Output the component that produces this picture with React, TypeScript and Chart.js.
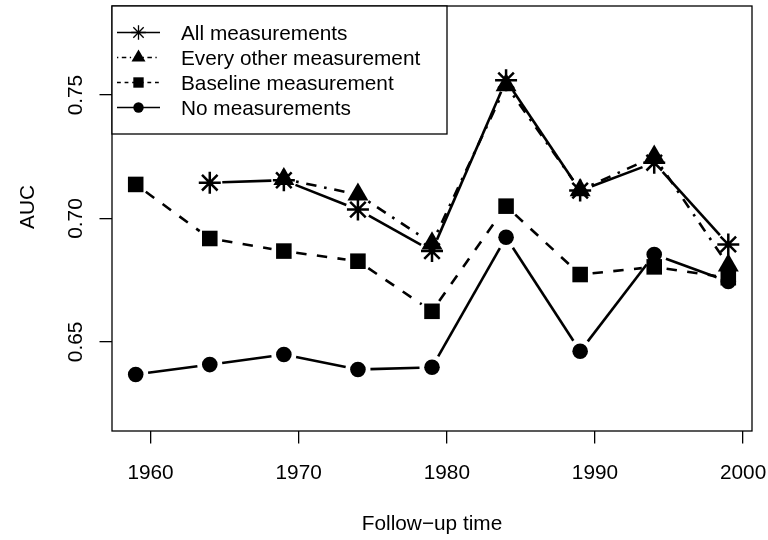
import React, { useEffect, useRef } from "react";
import { Chart, registerables } from "chart.js";

Chart.register(...registerables);

// ---- data ----
const YEARS = [1959, 1964, 1969, 1974, 1979, 1984, 1989, 1994, 1999];
const ALL_MEAS = [null, 0.7145, 0.7155, 0.7036, 0.6868, 0.756, 0.7113, 0.7226, 0.6895];
const EVERY_OTHER = [null, null, 0.716, 0.7097, 0.6899, 0.754, 0.7115, 0.7251, 0.681];
const BASELINE = [0.7138, 0.6919, 0.6868, 0.6827, 0.6624, 0.705, 0.6773, 0.6804, 0.676];
const NO_MEAS = [0.6368, 0.6408, 0.6449, 0.6388, 0.6397, 0.6924, 0.6462, 0.6854, 0.6745];
const X_TICKS = [1960, 1970, 1980, 1990, 2000];
const Y_TICKS = [0.65, 0.7, 0.75];
const LEGEND_LABELS = [
  "All measurements",
  "Every other measurement",
  "Baseline measurement",
  "No measurements",
];
const X_TITLE = "Follow\u2212up time";
const Y_TITLE = "AUC";

const FONT = '20.8px "Liberation Sans", Arial, Helvetica, sans-serif';

type Style = {
  pointStyle: string;
  radius: number;
  borderWidth: number;
  dash: number[];
  legendDash: number[];
};

const STYLES: Style[] = [
  { pointStyle: "star", radius: 11, borderWidth: 2.5, dash: [], legendDash: [] },
  { pointStyle: "triangle", radius: 12.1, borderWidth: 0, dash: [2.6, 7.8, 10.4, 7.8], legendDash: [1.3, 3.5, 4.5, 3.5] },
  { pointStyle: "rect", radius: 11, borderWidth: 0, dash: [10.4, 10.4], legendDash: [3.8, 3.8] },
  { pointStyle: "circle", radius: 7.8, borderWidth: 0, dash: [], legendDash: [] },
];

const SERIES = [ALL_MEAS, EVERY_OTHER, BASELINE, NO_MEAS];

const GAP = 12.5;

const linesPlugin = {
  id: "rTypeBLines",
  beforeDatasetsDraw(chart: any) {
    const ctx = chart.ctx;
    for (let i = chart.data.datasets.length - 1; i >= 0; i--) {
      const meta = chart.getDatasetMeta(i);
      const pts = meta.data;
      const st = STYLES[i];
      ctx.save();
      ctx.strokeStyle = "#000";
      ctx.lineWidth = 2.6;
      ctx.lineCap = "butt";
      ctx.setLineDash(st.dash);
      for (let k = 0; k < pts.length - 1; k++) {
        const a = pts[k];
        const b = pts[k + 1];
        const dx = b.x - a.x;
        const dy = b.y - a.y;
        const len = Math.sqrt(dx * dx + dy * dy);
        if (len <= 2 * GAP) continue;
        const ux = dx / len;
        const uy = dy / len;
        ctx.beginPath();
        ctx.moveTo(a.x + ux * GAP, a.y + uy * GAP);
        ctx.lineTo(b.x - ux * GAP, b.y - uy * GAP);
        ctx.stroke();
      }
      ctx.restore();
    }
  },
};

const decorPlugin = {
  id: "rDecor",
  afterDraw(chart: any) {
    const ctx = chart.ctx;
    const area = chart.chartArea;
    const xs = chart.scales.x;
    const ys = chart.scales.y;
    ctx.save();
    // plot box
    ctx.strokeStyle = "#000";
    ctx.lineWidth = 1.3;
    ctx.setLineDash([]);
    ctx.strokeRect(area.left, area.top, area.right - area.left, area.bottom - area.top);

    ctx.fillStyle = "#000";
    ctx.font = FONT;
    // x tick labels
    ctx.textAlign = "center";
    ctx.textBaseline = "alphabetic";
    xs.ticks.forEach((t: any) => {
      const px = xs.getPixelForValue(t.value);
      ctx.fillText(String(t.value), px, area.bottom + 47.5);
    });
    // y tick labels (rotated)
    ys.ticks.forEach((t: any) => {
      const py = ys.getPixelForValue(t.value);
      ctx.save();
      ctx.translate(area.left - 30.5, py);
      ctx.rotate(-Math.PI / 2);
      ctx.fillText(Number(t.value).toFixed(2), 0, 0);
      ctx.restore();
    });
    // axis titles
    ctx.fillText(X_TITLE, (area.left + area.right) / 2, area.bottom + 99);
    ctx.save();
    ctx.translate(area.left - 78, 207);
    ctx.rotate(-Math.PI / 2);
    ctx.fillText(Y_TITLE, 0, 0);
    ctx.restore();

    // legend
    const lx = area.left;
    const ly = area.top;
    const lw = 335;
    const rowH = 25;
    const firstRow = ly + 26.5;
    const lh = 128;
    ctx.fillStyle = "#fff";
    ctx.fillRect(lx, ly, lw, lh);
    ctx.strokeStyle = "#000";
    ctx.lineWidth = 1.3;
    ctx.strokeRect(lx, ly, lw, lh);
    const segL = lx + 5;
    const segR = lx + 48;
    const symX = (segL + segR) / 2;
    const textX = lx + 69;
    LEGEND_LABELS.forEach((label, i) => {
      const cy = firstRow + i * rowH;
      const st = STYLES[i];
      ctx.save();
      ctx.strokeStyle = "#000";
      ctx.lineWidth = 1.3;
      ctx.setLineDash(st.legendDash);
      ctx.beginPath();
      ctx.moveTo(segL, cy);
      ctx.lineTo(segR, cy);
      ctx.stroke();
      ctx.restore();
      // symbol (two thirds size)
      const r = st.radius * 0.667;
      ctx.save();
      ctx.fillStyle = "#000";
      ctx.strokeStyle = "#000";
      ctx.lineWidth = 1.3;
      ctx.setLineDash([]);
      ctx.beginPath();
      if (st.pointStyle === "star") {
        const d = r * Math.SQRT1_2;
        ctx.moveTo(symX - r, cy); ctx.lineTo(symX + r, cy);
        ctx.moveTo(symX, cy - r); ctx.lineTo(symX, cy + r);
        ctx.moveTo(symX - d, cy - d); ctx.lineTo(symX + d, cy + d);
        ctx.moveTo(symX - d, cy + d); ctx.lineTo(symX + d, cy - d);
        ctx.stroke();
      } else if (st.pointStyle === "triangle") {
        ctx.moveTo(symX, cy - r);
        ctx.lineTo(symX + r * 0.866, cy + r / 2);
        ctx.lineTo(symX - r * 0.866, cy + r / 2);
        ctx.closePath();
        ctx.fill();
      } else if (st.pointStyle === "rect") {
        const h = r * Math.SQRT1_2;
        ctx.rect(symX - h, cy - h, 2 * h, 2 * h);
        ctx.fill();
      } else {
        ctx.arc(symX, cy, r, 0, Math.PI * 2);
        ctx.fill();
      }
      ctx.restore();
      ctx.fillStyle = "#000";
      ctx.textAlign = "left";
      ctx.textBaseline = "alphabetic";
      ctx.font = FONT;
      ctx.fillText(label, textX, cy + 7.4);
    });
    ctx.restore();
  },
};

export default function App() {
  const canvasRef = useRef<HTMLCanvasElement | null>(null);

  useEffect(() => {
    const canvas = canvasRef.current;
    if (!canvas) return;
    const datasets = SERIES.map((arr, i) => {
      const st = STYLES[i];
      return {
        label: LEGEND_LABELS[i],
        data: YEARS.map((x, k) => ({ x, y: arr[k] })).filter((d) => d.y !== null),
        showLine: false,
        pointStyle: st.pointStyle,
        pointRadius: st.radius,
        pointHoverRadius: st.radius,
        pointBackgroundColor: "#000",
        pointBorderColor: "#000",
        pointBorderWidth: st.borderWidth,
        borderColor: "#000",
        backgroundColor: "#000",
        clip: false,
      };
    });
    const chart = new Chart(canvas, {
      type: "line",
      data: { datasets } as any,
      plugins: [linesPlugin, decorPlugin],
      options: {
        animation: false,
        responsive: false,
        devicePixelRatio: 1,
        events: [],
        layout: { padding: { left: 0, right: 16, top: 6, bottom: 0 }, autoPadding: false },
        plugins: { legend: { display: false }, tooltip: { enabled: false } },
        scales: {
          x: {
            type: "linear",
            position: "bottom",
            min: 1957.4,
            max: 2000.6,
            afterBuildTicks: (scale: any) => {
              scale.ticks = X_TICKS.map((v) => ({ value: v }));
            },
            afterFit: (scale: any) => {
              scale.height = 109;
            },
            ticks: { display: false },
            border: { display: false },
            grid: {
              display: true,
              drawOnChartArea: false,
              drawTicks: true,
              tickLength: 12.5,
              color: "#000",
              lineWidth: 1.3,
            },
          },
          y: {
            type: "linear",
            position: "left",
            min: 0.6139,
            max: 0.7861,
            afterBuildTicks: (scale: any) => {
              scale.ticks = Y_TICKS.map((v) => ({ value: v }));
            },
            afterFit: (scale: any) => {
              scale.width = 112;
            },
            ticks: { display: false },
            border: { display: false },
            grid: {
              display: true,
              drawOnChartArea: false,
              drawTicks: true,
              tickLength: 12.5,
              color: "#000",
              lineWidth: 1.3,
            },
          },
        },
      } as any,
    });
    return () => chart.destroy();
  }, []);

  return (
    <div style={{ position: "fixed", left: 0, top: 0, width: 768, height: 540, background: "#fff" }}>
      <canvas ref={canvasRef} width={768} height={540} style={{ display: "block" }} />
    </div>
  );
}
